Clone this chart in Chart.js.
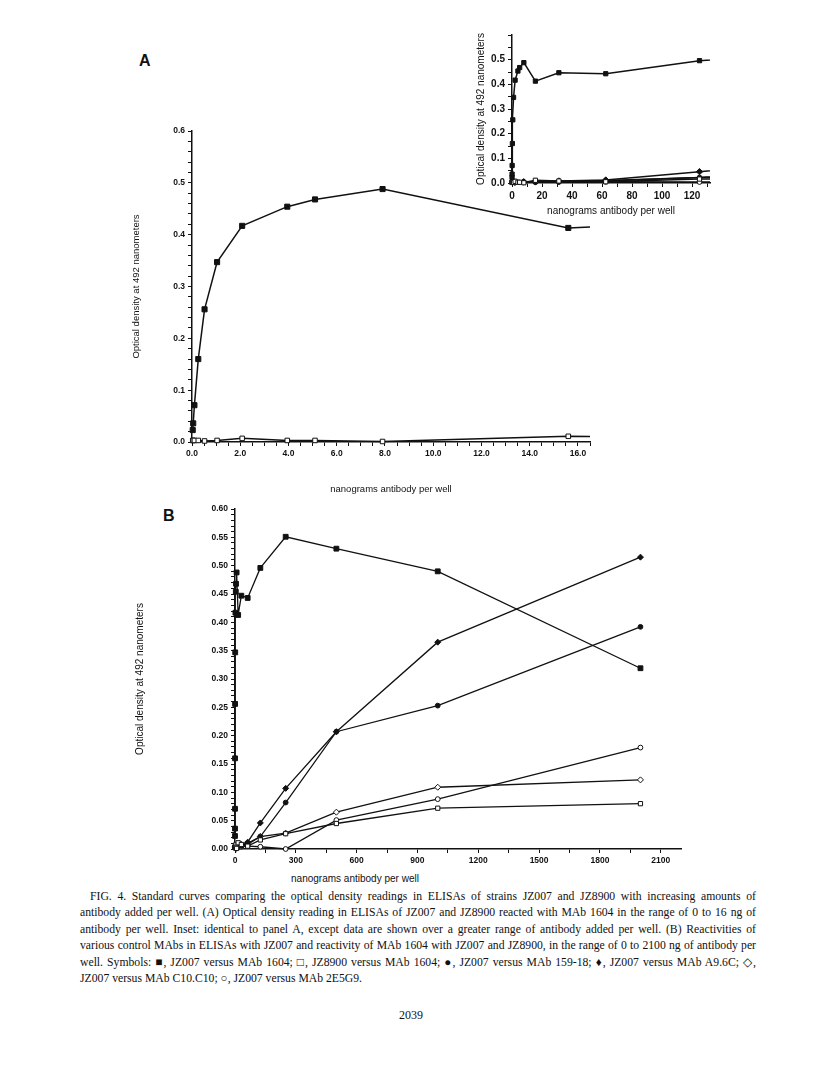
<!DOCTYPE html>
<html>
<head>
<meta charset="utf-8">
<script src="https://cdn.jsdelivr.net/npm/chart.js@4.4.0/dist/chart.umd.min.js"></script>
<style>
  body { margin: 0; background: #fff; }
  #page { position: relative; width: 816px; height: 1078px; overflow: hidden; background: #fff; }
  .abs { position: absolute; }
  .panel { font: bold 16px "Liberation Sans", Arial, sans-serif; color: #111; }
  .xtitle { font: 10px "Liberation Sans", Arial, sans-serif; color: #111; text-align: center; }
  #caption { left: 80px; top: 889px; width: 676px; font: 11.7px "Liberation Serif", "Times New Roman", serif; color: #111; line-height: 16.4px; }
  #caption div { text-align: justify; text-align-last: justify; white-space: nowrap; }
  #caption div.last { text-align-last: left; }
  #caption div.first { text-indent: 10px; }
  #folio { left: 0; width: 822px; top: 1008px; text-align: center; font: 12px "Liberation Serif", serif; color: #111; }
</style>
</head>
<body>
<div id="page">
  <div class="abs panel" style="left:139px; top:52px;">A</div>
  <div class="abs panel" style="left:163px; top:507px;">B</div>

  <canvas id="chartA" class="abs" width="480" height="374" style="left:120px; top:121px;"></canvas>
  <canvas id="chartInset" class="abs" width="248" height="191" style="left:470px; top:26px;"></canvas>
  <canvas id="chartB" class="abs" width="561" height="370" style="left:130px; top:499px;"></canvas>

  <div class="abs xtitle" id="xTitleB" style="left:255px; top:873px; width:200px;"></div>

  <div class="abs" id="caption">
    <div class="first">FIG. 4. Standard curves comparing the optical density readings in ELISAs of strains JZ007 and JZ8900 with increasing amounts of</div>
    <div>antibody added per well. (A) Optical density reading in ELISAs of JZ007 and JZ8900 reacted with MAb 1604 in the range of 0 to 16 ng of</div>
    <div>antibody per well. Inset: identical to panel A, except data are shown over a greater range of antibody added per well. (B) Reactivities of</div>
    <div>various control MAbs in ELISAs with JZ007 and reactivity of MAb 1604 with JZ007 and JZ8900, in the range of 0 to 2100 ng of antibody per</div>
    <div>well. Symbols: ■, JZ007 versus MAb 1604; □, JZ8900 versus MAb 1604; ●, JZ007 versus MAb 159-18; ♦, JZ007 versus MAb A9.6C; ◇,</div>
    <div class="last">JZ007 versus MAb C10.C10; ○, JZ007 versus MAb 2E5G9.</div>
  </div>
  <div class="abs" id="folio">2039</div>
</div>

<script>
// ng of antibody per well, MAb 1604 dilution series
const xMab1604 = [0.03, 0.05, 0.1, 0.26, 0.52, 1.04, 2.08, 3.95, 5.1, 7.9, 15.6, 31.25, 62.5, 125, 250, 500, 1000, 2000];
const odJZ007Mab1604 = [0.023, 0.036, 0.071, 0.16, 0.256, 0.347, 0.417, 0.454, 0.468, 0.488, 0.413, 0.447, 0.443, 0.496, 0.551, 0.530, 0.490, 0.319];
const odJZ8900Mab1604 = [0.003, 0.003, 0.003, 0.003, 0.002, 0.003, 0.007, 0.003, 0.003, 0.001, 0.011, 0.008, 0.005, 0.016, 0.027, 0.045, 0.072, 0.080];

// control MAbs against JZ007
const xControls = [1.95, 7.8, 15.6, 31.25, 62.5, 125, 250, 500, 1000, 2000];
const odMab15918 = [0.003, 0.004, 0.005, 0.006, 0.010, 0.022, 0.082, 0.207, 0.253, 0.392];
const odMabA96C = [0.004, 0.005, 0.006, 0.008, 0.012, 0.046, 0.107, 0.207, 0.365, 0.515];
const odMabC10C10 = [0.003, 0.004, 0.005, 0.006, 0.008, 0.022, 0.028, 0.065, 0.109, 0.122];
const odMab2E5G9 = [0.002, 0.003, 0.003, 0.004, 0.005, 0.004, 0.000, 0.051, 0.088, 0.179];

const yTitle = 'Optical density at 492 nanometers';
const xTitle = 'nanograms antibody per well';

const ink = '#111';
const sans = '"Liberation Sans", Arial, sans-serif';

document.getElementById('xTitleB').textContent = xTitle;

function pts(xs, ys) {
  return xs.map((x, i) => ({ x: x, y: ys[i] }));
}

function isStep(v, step) {
  const q = v / step;
  return Math.abs(q - Math.round(q)) < 1e-6;
}

function series(label, xs, ys, shape, filled, r, lw) {
  return {
    label: label,
    data: pts(xs, ys),
    borderColor: ink,
    borderWidth: lw,
    pointStyle: shape,
    pointRadius: r,
    pointHoverRadius: r,
    pointBackgroundColor: filled ? ink : '#fff',
    pointBorderColor: ink,
    pointBorderWidth: 1,
    tension: 0,
    clip: { left: 8, top: 8, right: 0, bottom: 8 }
  };
}

// one linear axis; minor ticks at `step`, labels every `every`
function axis(o) {
  const ax = {
    type: 'linear',
    min: o.min,
    max: o.max,
    grid: { display: true, drawOnChartArea: false, drawTicks: true, tickLength: 4, color: ink, tickColor: ink, tickWidth: 1 },
    border: { display: true, color: ink, width: 1.5 },
    ticks: {
      stepSize: o.step,
      autoSkip: false,
      maxRotation: 0,
      includeBounds: false,
      padding: 3,
      color: ink,
      font: { family: sans, size: o.size, weight: 'bold' },
      callback: v => (isStep(v, o.every) && (o.top === undefined || v <= o.top)) ? v.toFixed(o.dec) : ''
    },
    afterFit: s => {
      if (o.width !== undefined) s.width = o.width;
      if (o.height !== undefined) s.height = o.height;
    }
  };
  if (o.title) {
    ax.title = {
      display: true,
      text: o.title,
      color: ink,
      font: { family: sans, size: o.titleSize },
      padding: { top: o.titlePad || 0, bottom: 0 }
    };
  }
  return ax;
}

function makeChart(id, datasets, xAxis, yAxis, pad) {
  return new Chart(document.getElementById(id), {
    type: 'line',
    data: { datasets: datasets },
    options: {
      responsive: false,
      animation: false,
      events: [],
      layout: { padding: pad },
      plugins: { legend: { display: false }, tooltip: { enabled: false } },
      scales: { x: xAxis, y: yAxis }
    }
  });
}

// Panel A: 0 to 16 ng
makeChart('chartA', [
  series('JZ007 versus MAb 1604', xMab1604, odJZ007Mab1604, 'rect', true, 3.6, 1.5),
  series('JZ8900 versus MAb 1604', xMab1604, odJZ8900Mab1604, 'rect', false, 3.2, 1.5)
],
  axis({ min: 0, max: 16.5, step: 0.5, every: 2, dec: 1, size: 8.5, height: 53, title: xTitle, titleSize: 9.5 }),
  axis({ min: 0, max: 0.6, step: 0.02, every: 0.1, dec: 1, size: 8.5, width: 72, title: yTitle, titleSize: 9.5, titlePad: 11 }),
  { top: 10, right: 10, left: 0, bottom: 0 });

// Inset: 0 to 130 ng
makeChart('chartInset', [
  series('JZ007 versus MAb 1604', xMab1604, odJZ007Mab1604, 'rect', true, 3, 1.5),
  series('JZ8900 versus MAb 1604', xMab1604, odJZ8900Mab1604, 'rect', false, 3, 1.5),
  series('JZ007 versus MAb 159-18', xControls, odMab15918, 'circle', true, 2.4, 1.5),
  series('JZ007 versus MAb A9.6C', xControls, odMabA96C, 'rectRot', true, 3.2, 1.5),
  series('JZ007 versus MAb C10.C10', xControls, odMabC10C10, 'rectRot', false, 3, 1.5),
  series('JZ007 versus MAb 2E5G9', xControls, odMab2E5G9, 'circle', false, 2.4, 1.5)
],
  axis({ min: 0, max: 132, step: 10, every: 20, dec: 0, size: 10, height: 34, title: xTitle, titleSize: 10 }),
  axis({ min: 0, max: 0.6, step: 0.05, every: 0.1, dec: 1, size: 10, top: 0.55, width: 42, title: yTitle, titleSize: 10, titlePad: 5 }),
  { top: 8, right: 8, left: 0, bottom: 0 });

// Panel B: 0 to 2100 ng
makeChart('chartB', [
  series('JZ007 versus MAb 1604', xMab1604, odJZ007Mab1604, 'rect', true, 3.4, 1.3),
  series('JZ8900 versus MAb 1604', xMab1604, odJZ8900Mab1604, 'rect', false, 3, 1.3),
  series('JZ007 versus MAb 159-18', xControls, odMab15918, 'circle', true, 2.4, 1.3),
  series('JZ007 versus MAb A9.6C', xControls, odMabA96C, 'rectRot', true, 3, 1.3),
  series('JZ007 versus MAb C10.C10', xControls, odMabC10C10, 'rectRot', false, 3, 1.3),
  series('JZ007 versus MAb 2E5G9', xControls, odMab2E5G9, 'circle', false, 2.4, 1.3)
],
  axis({ min: 0, max: 2200, step: 150, every: 300, dec: 0, size: 8.5, height: 20 }),
  axis({ min: 0, max: 0.6, step: 0.01, every: 0.05, dec: 2, size: 8.5, width: 105, title: yTitle, titleSize: 10, titlePad: 4 }),
  { top: 10, right: 10, left: 0, bottom: 0 });
</script>
</body>
</html>
